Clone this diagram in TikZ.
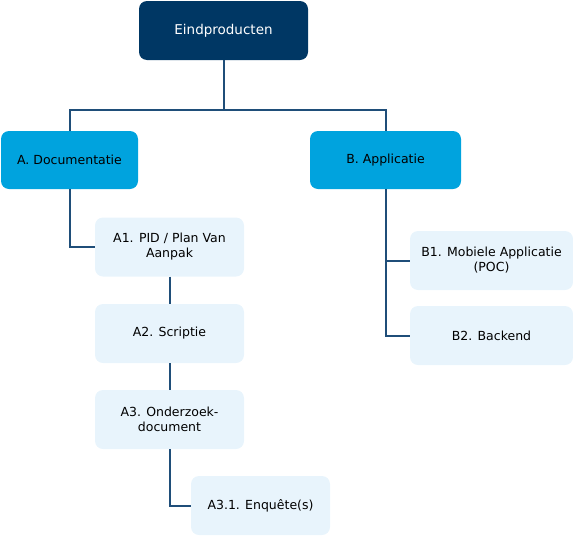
\documentclass[tikz,border=0pt]{standalone}
\usepackage{fontspec}
\setmainfont{DejaVu Sans}
\usetikzlibrary{calc}
\definecolor{navybox}{HTML}{003764}
\definecolor{cyanbox}{HTML}{00A3DE}
\definecolor{palebox}{HTML}{E8F4FC}
\definecolor{linkline}{HTML}{1F4E79}
\tikzset{
  topbox/.style={fill=navybox,text=white,rounded corners=8pt,align=center,
    minimum width=169pt,minimum height=59pt,font=\fontsize{13.5}{16}\selectfont},
  mainbox/.style={fill=cyanbox,text=black,rounded corners=8pt,align=center,
    minimum height=58pt,font=\fontsize{12.5}{15}\selectfont},
  subbox/.style={fill=palebox,text=black,rounded corners=8pt,align=center,
    minimum height=59pt,font=\fontsize{12.5}{15}\selectfont},
  link/.style={draw=linkline,line width=2pt},
}

\begin{document}
\begin{tikzpicture}[x=1pt,y=-1pt]

\useasboundingbox (0,0) rectangle (573,536);

% top level
\node[topbox] (E) at (223.5,30.5) {Eindproducten};

% level 1
\node[mainbox,minimum width=137pt] (A) at (69.5,160) {A. Documentatie};
\node[mainbox,minimum width=151pt] (B) at (385.5,160) {B. Applicatie};

% level 2
\node[subbox,minimum width=149pt] (A1) at (169.5,247) {A1. PID / Plan Van\\Aanpak};
\node[subbox,minimum width=149pt] (A2) at (169.5,333.5) {A2. Scriptie};
\node[subbox,minimum width=149pt] (A3) at (169.5,419.5) {A3. Onderzoek-\\document};
\node[subbox,minimum width=139pt] (A31) at (260.5,505.5) {A3.1. Enquête(s)};
\node[subbox,minimum width=163pt] (B1) at (491.5,260.5) {B1. Mobiele Applicatie\\(POC)};
\node[subbox,minimum width=163pt] (B2) at (491.5,335.5) {B2. Backend};

% connectors
\coordinate (split) at (223.5,110);
\draw[link] (E.south) -- (split);
\draw[link] (split) -| (A.north);
\draw[link] (split) -| (B.north);
\draw[link] (A.south) |- (A1.west);
\draw[link] (A1.south) -- (A2.north);
\draw[link] (A2.south) -- (A3.north);
\draw[link] (A3.south) |- (A31.west);
\draw[link] (B.south) |- (B1.west);
\draw[link] (B.south) |- (B2.west);

\end{tikzpicture}
\end{document}
